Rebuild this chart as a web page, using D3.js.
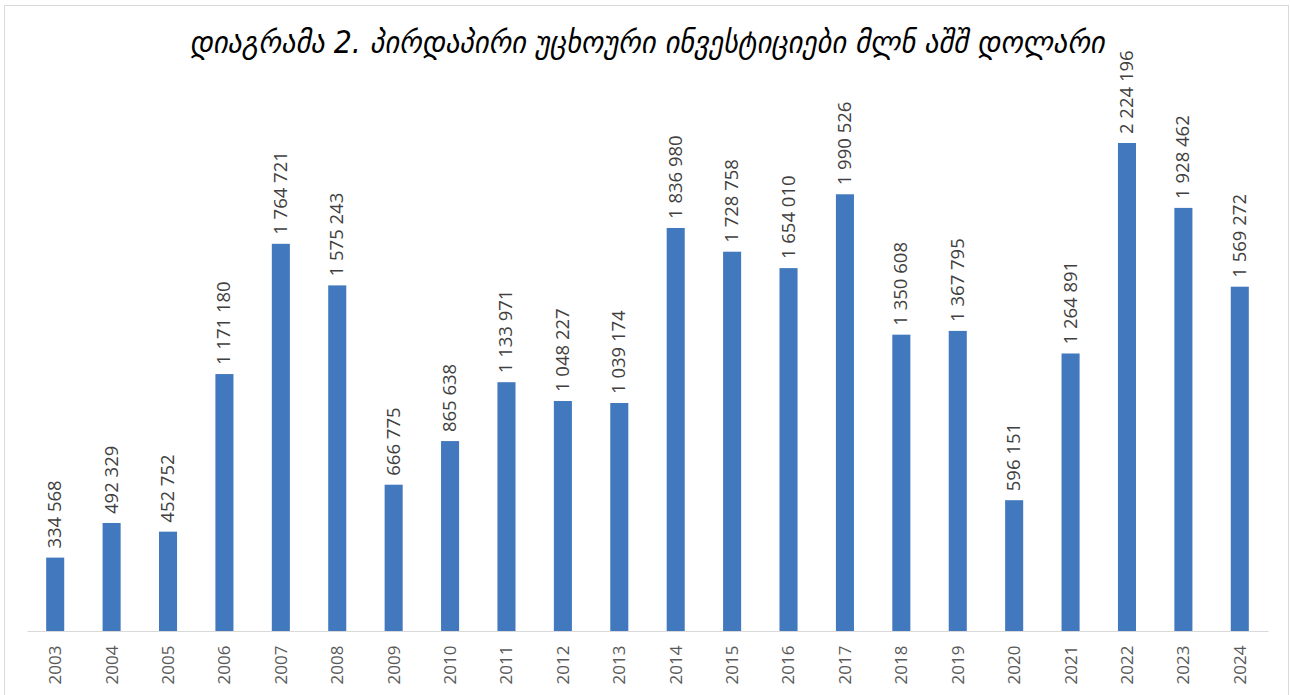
<!DOCTYPE html>
<meta charset="utf-8">
<style>
body { margin:0; background:#fff; }
svg { display:block; }
.title { font-family: "DejaVu Sans Condensed", "DejaVu Sans", sans-serif; font-style: italic; font-size: 31.6px; fill:#000; }
.val { font-family: "Open Sans", sans-serif; font-size: 18.5px; fill:#404040; }
.axis text { font-family: "Open Sans", sans-serif; font-size: 17px; fill:#595959; }
.axis path, .axis line { stroke:#d9d9d9; }
</style>
<body>
<svg width="1290" height="695" id="vis"></svg>
</body>
<script src="https://d3js.org/d3.v7.min.js"></script>
<script>
var years = ["2003","2004","2005","2006","2007","2008","2009","2010","2011","2012","2013",
  "2014","2015","2016","2017","2018","2019","2020","2021","2022","2023","2024"];
var fdi = [334568,492329,452752,1171180,1764721,1575243,666775,865638,1133971,1048227,1039174,
  1836980,1728758,1654010,1990526,1350608,1367795,596151,1264891,2224196,1928462,1569272];
var title = "დიაგრამა 2. პირდაპირი უცხოური ინვესტიციები მლნ აშშ დოლარი";

var svg = d3.select("svg");

// outer chart border
svg.append("rect")
  .attr("x", 4.5).attr("y", 5.5).attr("width", 1284).attr("height", 700)
  .attr("fill", "none").attr("stroke", "#d9d9d9");

var x = d3.scaleBand().domain(years).range([27, 1268]).paddingInner(0.68).paddingOuter(0.34),
    y = d3.scaleLinear().domain([0, 2500000]).range([631, 82.5]);

var fmt = function(v){ return d3.format(",")(v).replace(/,/g, " "); };

svg.append("text").attr("class", "title")
  .attr("x", 647).attr("y", 53).attr("text-anchor", "middle")
  .text(title);

svg.selectAll(".bar").data(fdi).enter().append("rect")
  .attr("class", "bar")
  .attr("x", function(d, i){ return x(years[i]); })
  .attr("y", function(d){ return y(d); })
  .attr("width", x.bandwidth())
  .attr("height", function(d){ return y(0) - y(d); })
  .attr("fill", "#4178be");

svg.selectAll(".val").data(fdi).enter().append("text")
  .attr("class", "val")
  .attr("transform", function(d, i){
    return "translate(" + (x(years[i]) + x.bandwidth()/2 + 6) + "," + (y(d) - 9) + ") rotate(-90)";
  })
  .text(function(d){ return fmt(d); });

var xaxis = svg.append("g").attr("class", "axis")
  .attr("transform", "translate(0,631)")
  .call(d3.axisBottom(x).tickSize(0).tickSizeOuter(0));
xaxis.selectAll("text")
  .attr("transform", "rotate(-90)")
  .attr("x", -34).attr("y", 0).attr("dy", "0.35em")
  .style("text-anchor", "middle");
</script>
